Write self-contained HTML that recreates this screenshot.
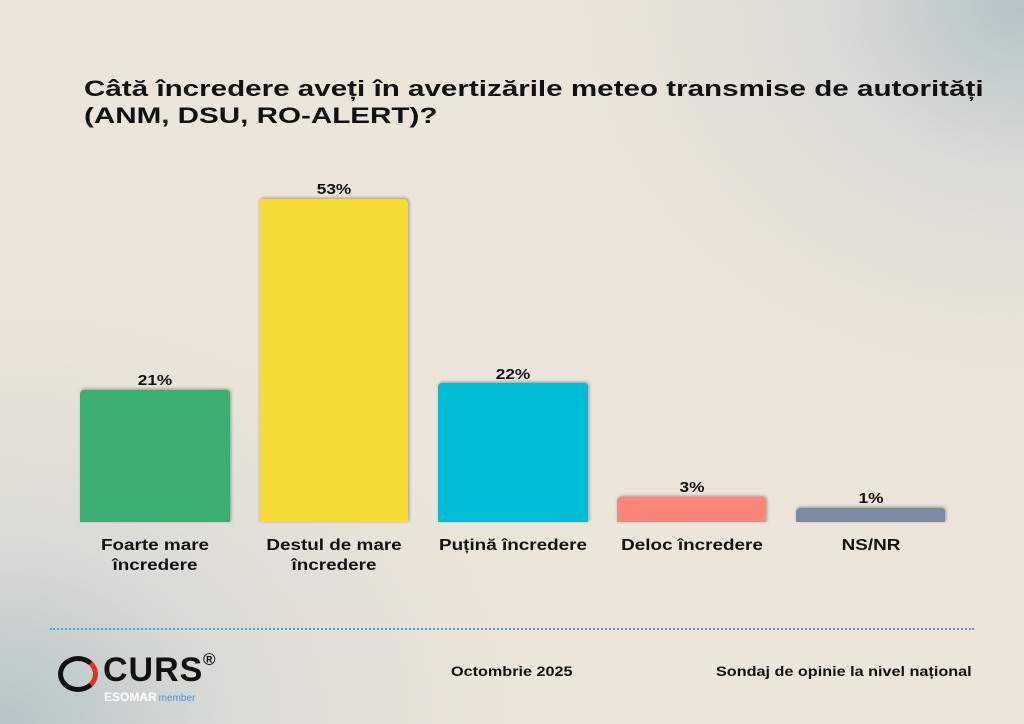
<!DOCTYPE html>
<html><head><meta charset="utf-8"><style>
body{margin:0;width:1024px;height:724px;overflow:hidden;font-family:"Liberation Sans",sans-serif;}
.bg{position:absolute;inset:0;background:
radial-gradient(ellipse 450px 380px at 100% 0%,#b3c3c8 0%,rgba(200,210,210,.5) 45%,rgba(237,230,220,0) 100%),
radial-gradient(ellipse 520px 420px at 0% 100%,#b5c4c8 0%,rgba(200,210,210,.5) 45%,rgba(237,230,220,0) 100%),
#ede5da;}
.t{position:absolute;left:84px;top:75px;font-size:22px;font-weight:bold;color:#111;line-height:27px;transform:scaleX(1.345);transform-origin:0 0;white-space:nowrap;}
.bar{position:absolute;border-radius:4px 4px 0 0;box-shadow:1px -1px 3px rgba(0,0,0,.35);}
.v{position:absolute;width:150px;text-align:center;font-size:15px;font-weight:bold;color:#111;transform:scaleX(1.15);}
.l{position:absolute;width:170px;text-align:center;font-size:16px;font-weight:bold;color:#111;line-height:20px;transform:scaleX(1.18);}
.f{position:absolute;top:664px;font-size:13.5px;font-weight:bold;color:#111;transform:scaleX(1.2);transform-origin:0 0;white-space:nowrap;}
</style></head><body><div class="bg"></div>
<div class="t">Câtă încredere aveți în avertizările meteo transmise de autorități<br>(ANM, DSU, RO-ALERT)?</div>
<div class="bar" style="left:80px;top:390px;width:150px;height:132px;background:#3bae72"></div>
<div class="bar" style="left:259px;top:199px;width:149px;height:323px;background:#f5db35"></div>
<div class="bar" style="left:438px;top:383px;width:150px;height:139px;background:#00bcd4"></div>
<div class="bar" style="left:617px;top:497px;width:149px;height:25px;background:#fb8578"></div>
<div class="bar" style="left:796px;top:508px;width:149px;height:14px;background:#7c8aa2"></div>
<div class="v" style="left:80px;top:372px">21%</div>
<div class="v" style="left:259px;top:181px">53%</div>
<div class="v" style="left:438px;top:366px">22%</div>
<div class="v" style="left:617px;top:479px">3%</div>
<div class="v" style="left:796px;top:490px">1%</div>
<div class="l" style="left:70px;top:536px">Foarte mare<br>încredere</div>
<div class="l" style="left:249px;top:536px">Destul de mare<br>încredere</div>
<div class="l" style="left:428px;top:536px">Puțină încredere</div>
<div class="l" style="left:607px;top:536px">Deloc încredere</div>
<div class="l" style="left:786px;top:536px">NS/NR</div>
<div style="position:absolute;left:50px;top:628px;width:924px;border-top:2px dotted #5a9fc0"></div>
<div style="position:absolute;left:58px;top:656px;width:40px;height:36px;border-radius:50%;border:5px solid #111;border-right-color:#d32;box-sizing:border-box"></div>
<div style="position:absolute;left:103px;top:651px;font-size:34px;font-weight:900;color:#111;letter-spacing:1px">CURS</div>
<div style="position:absolute;left:203px;top:650px;font-size:17px;font-weight:bold;color:#111">®</div>
<div style="position:absolute;left:104px;top:690px;font-size:12px;font-weight:bold;color:#fff">ESOMAR<span style="font-weight:normal;color:#5a8fb5;background:#c9d8e0;margin-left:2px;font-size:10px">member</span></div>
<div class="f" style="left:451px">Octombrie 2025</div>
<div class="f" style="left:716px">Sondaj de opinie la nivel național</div>
</body></html>
